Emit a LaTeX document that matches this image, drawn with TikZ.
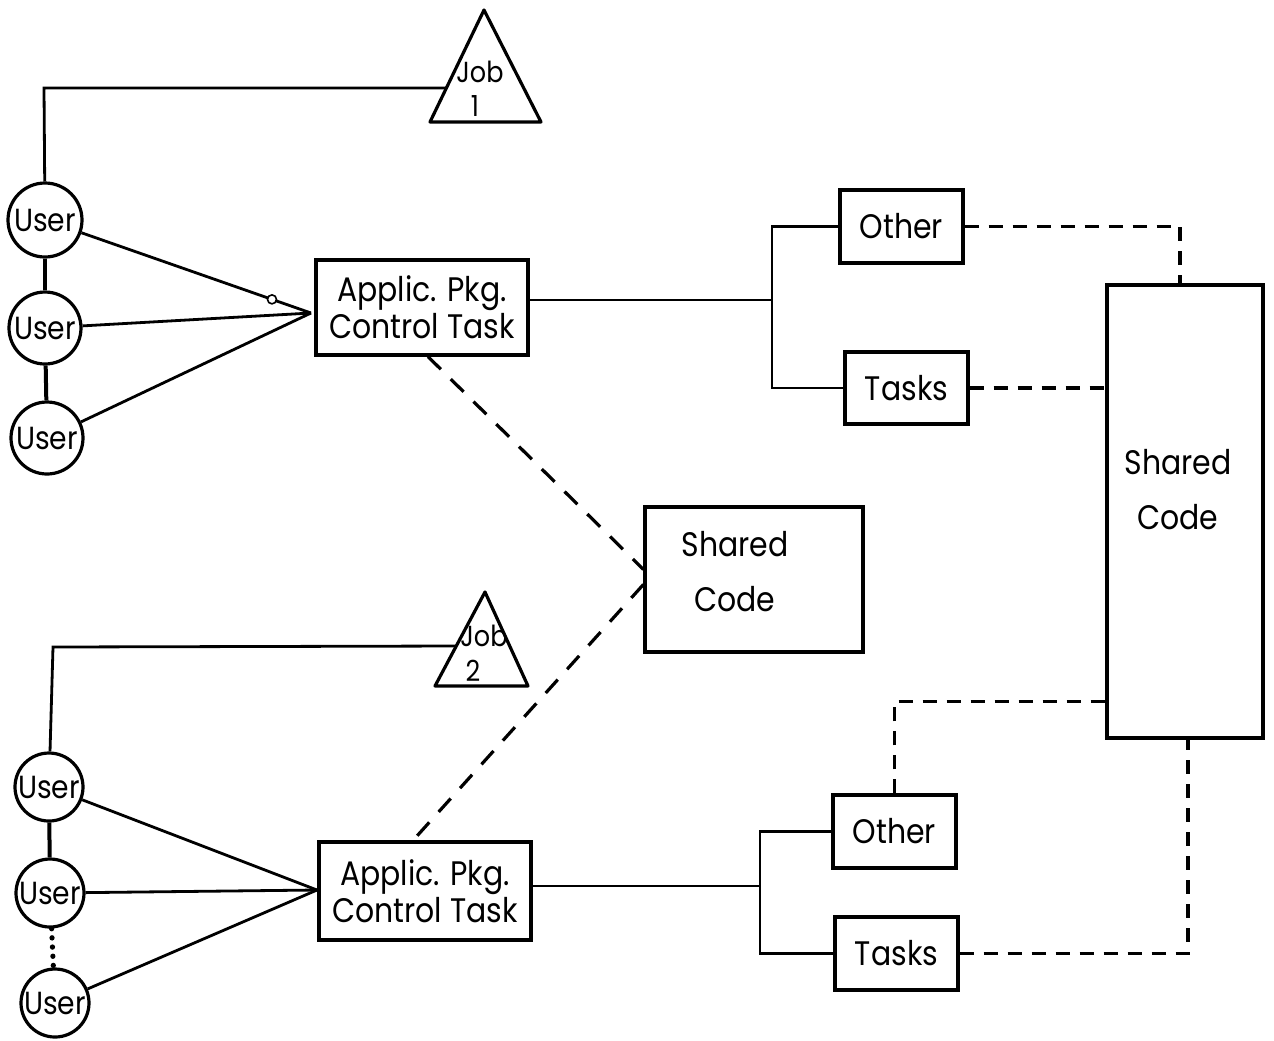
\documentclass[tikz,border=0pt]{standalone}
\usepackage{fontspec}
\setmainfont{Poppins}[FakeStretch=0.88]
\usetikzlibrary{calc}
\begin{document}
\begin{tikzpicture}[x=0.5pt,y=-0.5pt,
  every node/.style={inner sep=0pt},
  lbl/.style={font=\fontsize{17}{18.5}\selectfont, align=center},
  joblbl/.style={font=\fontsize{14.5}{16}\selectfont},
  box/.style={draw, line width=1.6pt, lbl},
  usr/.style={draw, circle, line width=1.6pt, minimum size=#1, font=\fontsize{16}{18}\selectfont},
  tri/.style={draw, line width=1.6pt, line join=round},
  link/.style={line width=1.4pt},
  chain/.style={line width=2pt},
  dsh/.style={line width=1.8pt, dash pattern=on 7pt off 5pt},
  dshdiag/.style={line width=1.6pt, dash pattern=on 9pt off 7pt},
  dotline/.style={line width=2.6pt, line cap=round, dash pattern=on 0.1pt off 4.5pt},
  ring/.style={circle, draw, fill=white, line width=0.8pt, minimum size=4.5pt}]

\fill[white] (0,0) rectangle (1274,1040);
\path[use as bounding box] (0,0) rectangle (1274,1040);

% ---------------- upper job ----------------
\draw[tri] (484,10) -- (541,122) -- (430,122) -- cycle;
\node[joblbl] (j1t) at (480,72) {Job};
\node[joblbl] (j1n) at (475,106) {1};
\coordinate (j1side) at (446,88);
\coordinate (top1) at (44,88);

\node[usr=37pt] (u1) at (45,220) {User};
\node[usr=36pt] (u2) at (45,328) {User};
\node[usr=36pt] (u3) at (47,438) {User};

\node[box, minimum width=106pt, minimum height=47.5pt] (a1) at (422,307.5) {Applic. Pkg.\\Control Task};
\coordinate (a1in) at (311,313);

\draw[link] (u1) -- (top1) -- (j1side);
\draw[chain] (u1) -- (u2);
\draw[chain] (u2) -- (u3);
\draw[link] (u1) -- node[pos=0.83, ring] (r1) {} (a1in);
\draw[link] (u2) -- (a1in);
\draw[link] (u3) -- (a1in);

\node[box, minimum width=61.5pt, minimum height=36.5pt] (o1) at (901.5,226.5) {Other};
\node[box, minimum width=61.5pt, minimum height=36pt] (t1) at (906.5,388) {Tasks};
\coordinate (b1) at (772,300);
\draw[link] (a1.east |- b1) -- (b1);
\draw[link] (o1.west) -| (b1) |- (t1.west);

% ---------------- shared code ----------------
\node[box, minimum width=78pt, minimum height=226.5pt] (sc2) at (1185,511.5) {};
\node[font=\fontsize{17}{27.5}\selectfont, align=center] (sc2t) at (1178,490) {Shared\\Code};

\node[box, minimum width=109pt, minimum height=72.5pt] (sc1) at (754,579.5) {};
\node[font=\fontsize{17}{27.5}\selectfont, align=center] (sc1t) at (735,572) {Shared\\Code};

% ---------------- lower job ----------------
\draw[tri] (485,592) -- (528,686) -- (435,686) -- cycle;
\node[joblbl] (j2t) at (484,636) {Job};
\node[joblbl] (j2n) at (473,671) {2};
\coordinate (j2side) at (456,646);
\coordinate (top2) at (53,647);

\node[usr=34pt] (v1) at (49,787) {User};
\node[usr=34pt] (v2) at (50,893) {User};
\node[usr=34pt] (v3) at (55,1003) {User};

\node[box, minimum width=106pt, minimum height=49pt] (a2) at (425,891) {Applic. Pkg.\\Control Task};
\coordinate (a2in) at (317,890);

\draw[link] (v1) -- (top2) -- (j2side);
\draw[chain] (v1) -- (v2);
\draw[dotline] (v2) -- (v3);
\draw[link] (v1) -- (a2in);
\draw[link] (v2) -- (a2in);
\draw[link] (v3) -- (a2in);

\node[box, minimum width=61.5pt, minimum height=36.5pt] (o2) at (894.5,831.5) {Other};
\node[box, minimum width=61.5pt, minimum height=36.5pt] (t2) at (896.5,953.5) {Tasks};
\coordinate (b2) at (760,886);
\draw[link] (a2.east |- b2) -- (b2);
\draw[link] (o2.west) -| (b2) |- (t2.west);

% ---------------- shared-code links ----------------
\draw[dsh] (o1.east) -| ([xshift=-2.5pt]sc2.north);
\draw[dsh] (t1.east) -- (t1.east -| sc2.west);
\draw[dsh] (o2.north) |- ([yshift=19pt]sc2.south west);
\draw[dsh] (t2.east) -| ([xshift=1.5pt]sc2.south);
\draw[dshdiag] ([xshift=3pt]a1.south) -- ([yshift=5pt]sc1.west);
\draw[dshdiag] ([yshift=-2.5pt]sc1.west) -- ([xshift=-6pt]a2.north);
\end{tikzpicture}
\end{document}
